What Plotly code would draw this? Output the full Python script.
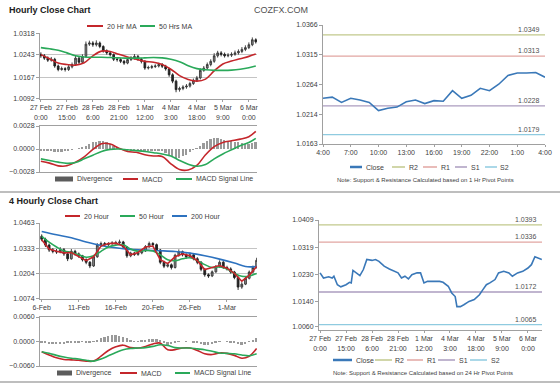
import plotly.graph_objects as go

W, H = 560, 386
FONT = "Liberation Sans, Arial, sans-serif"
TXT = "#404040"
AX = "#a0a0a0"

# ---------------- Hourly close chart (top-left) ----------------
h_hours = list(range(0, 125, 2))
h_first_open = 1.0245
h_close = [1.0240,1.0232,1.0225,1.0228,1.0205,1.0193,1.0196,1.0193,1.0202,1.0210,
           1.0232,1.0218,1.0238,1.0280,1.0284,1.0278,1.0284,1.0272,1.0257,1.0250,
           1.0244,1.0228,1.0227,1.0221,1.0215,1.0227,1.0232,1.0238,1.0228,1.0221,
           1.0198,1.0200,1.0203,1.0205,1.0210,1.0204,1.0195,1.0175,1.0153,1.0124,
           1.0128,1.0133,1.0136,1.0145,1.0156,1.0164,1.0190,1.0198,1.0210,1.0221,
           1.0240,1.0250,1.0245,1.0240,1.0242,1.0245,1.0250,1.0255,1.0262,1.0268,
           1.0278,1.0295,1.0288]
h_high = [1.0252,1.0246,1.0238,1.0236,1.0233,1.0210,1.0203,1.0201,1.0208,1.0217,
          1.0240,1.0237,1.0245,1.0289,1.0292,1.0290,1.0293,1.0289,1.0276,1.0262,
          1.0255,1.0248,1.0234,1.0232,1.0226,1.0233,1.0239,1.0246,1.0243,1.0233,
          1.0225,1.0206,1.0209,1.0211,1.0216,1.0215,1.0209,1.0199,1.0180,1.0158,
          1.0134,1.0139,1.0143,1.0151,1.0162,1.0171,1.0197,1.0205,1.0217,1.0228,
          1.0249,1.0257,1.0256,1.0251,1.0249,1.0252,1.0258,1.0262,1.0270,1.0276,
          1.0286,1.0303,1.0300]
h_low = [1.0233,1.0226,1.0219,1.0220,1.0199,1.0187,1.0189,1.0186,1.0188,1.0197,
         1.0206,1.0212,1.0213,1.0234,1.0274,1.0271,1.0272,1.0266,1.0251,1.0244,
         1.0238,1.0222,1.0220,1.0215,1.0209,1.0211,1.0222,1.0227,1.0223,1.0214,
         1.0192,1.0193,1.0195,1.0198,1.0200,1.0198,1.0189,1.0168,1.0146,1.0115,
         1.0117,1.0122,1.0127,1.0131,1.0140,1.0150,1.0159,1.0185,1.0193,1.0204,
         1.0216,1.0234,1.0238,1.0234,1.0235,1.0236,1.0240,1.0244,1.0249,1.0256,
         1.0263,1.0273,1.0282]
h_open = [h_first_open] + h_close[:-1]

h_ma_hours = [0,5,10,15,20,25,30,35,40,45,50,55,60,65,70,75,80,85,90,95,100,105,110,115,120,124]
h_ma20 = [1.0244,1.0230,1.0215,1.0210,1.0208,1.0216,1.0240,1.0256,1.0255,1.0245,1.0236,1.0228,1.0221,
          1.0218,1.0210,1.0194,1.0172,1.0159,1.0153,1.0160,1.0188,1.0212,1.0222,1.0230,1.0238,1.0246]
h_ma50 = [1.0268,1.0264,1.0259,1.0250,1.0240,1.0236,1.0235,1.0235,1.0234,1.0233,1.0232,1.0232,1.0233,
          1.0234,1.0233,1.0228,1.0220,1.0206,1.0196,1.0192,1.0190,1.0190,1.0191,1.0194,1.0199,1.0205]
h_macd = [-0.00150,-0.00172,-0.00205,-0.00205,-0.00160,-0.00095,-0.00005,0.00065,0.00060,0.00010,
          -0.00030,-0.00040,-0.00070,-0.00085,-0.00090,-0.00180,-0.00250,-0.00255,-0.00200,-0.00070,
          0.00030,0.00080,0.00100,0.00120,0.00150,0.00215]
h_signal = [-0.00120,-0.00140,-0.00160,-0.00175,-0.00165,-0.00120,-0.00075,-0.00030,-0.00005,0.00000,
            -0.00010,-0.00020,-0.00030,-0.00045,-0.00060,-0.00085,-0.00140,-0.00185,-0.00210,-0.00190,
            -0.00120,-0.00060,-0.00010,0.00040,0.00080,0.00130]
h_div = [-0.0003,-0.0003,-0.0003,-0.0003,-0.0004,-0.0004,-0.0004,-0.0003,-0.0002,-0.0001,
         0.0000,0.0001,0.0002,0.0004,0.0006,0.0008,0.0009,0.0010,0.0010,0.0008,
         0.0006,0.0004,0.0002,0.0001,-0.0001,-0.0002,-0.0002,-0.0002,-0.0003,-0.0003,
         -0.0003,-0.0003,-0.0003,-0.0003,-0.0003,-0.0003,-0.0005,-0.0008,-0.0010,-0.0011,
         -0.0011,-0.0009,-0.0007,-0.0004,-0.0001,0.0001,0.0004,0.0007,0.0010,0.0012,
         0.0013,0.0013,0.0012,0.0011,0.0010,0.0010,0.0009,0.0008,0.0007,0.0006,
         0.0006,0.0007,0.0008]
h_tick_hours = [0,15,30,45,60,75,90,105,120]
h_tick_text = ["27 Feb<br>0:00","27 Feb<br>15:00","28 Feb<br>6:00","28 Feb<br>21:00","1 Mar<br>12:00",
               "4 Mar<br>3:00","4 Mar<br>18:00","5 Mar<br>9:00","6 Mar<br>0:00"]
h_price_ticks = [1.0092,1.0167,1.0243,1.0318]
h_macd_ticks = [-0.0028,0.0,0.0028]

# ---------------- 1 Hr pivot chart (top-right) ----------------
p1_hours = list(range(25))
p1_close = [1.0241,1.0243,1.0234,1.0241,1.0238,1.0234,1.0220,1.0224,1.0226,1.0235,1.0238,1.0232,1.0237,
            1.0236,1.0254,1.0241,1.0246,1.0258,1.0254,1.0265,1.0280,1.0284,1.0284,1.0285,1.0277]
p1_tick_hours = [0,3,6,9,12,15,18,21,24]
p1_tick_text = ["4:00","7:00","10:00","13:00","16:00","19:00","22:00","1:00","4:00"]
p1_price_ticks = [1.0163,1.0214,1.0264,1.0315,1.0366]
level_names = ["R2","R1","S1","S2"]
p1_levels = [1.0349,1.0313,1.0228,1.0179]

# ---------------- 4 Hourly close chart (bottom-left) ----------------
f_bars = list(range(59))
f_first_open = 1.0395
f_close = [1.0380,1.0350,1.0325,1.0318,1.0315,1.0326,1.0305,1.0280,1.0318,1.0305,
           1.0295,1.0275,1.0262,1.0243,1.0290,1.0350,1.0358,1.0352,1.0358,1.0360,
           1.0362,1.0366,1.0340,1.0295,1.0309,1.0302,1.0310,1.0320,1.0342,1.0358,
           1.0352,1.0325,1.0262,1.0242,1.0249,1.0235,1.0298,1.0316,1.0300,1.0290,
           1.0300,1.0280,1.0262,1.0226,1.0198,1.0192,1.0213,1.0240,1.0262,1.0235,
           1.0228,1.0212,1.0184,1.0135,1.0150,1.0180,1.0212,1.0235,1.0272]
f_high = [1.0405,1.0388,1.0358,1.0335,1.0330,1.0340,1.0335,1.0312,1.0330,1.0326,
          1.0312,1.0300,1.0282,1.0268,1.0300,1.0360,1.0368,1.0366,1.0365,1.0370,
          1.0372,1.0378,1.0372,1.0345,1.0316,1.0315,1.0318,1.0328,1.0350,1.0368,
          1.0365,1.0358,1.0330,1.0270,1.0258,1.0256,1.0306,1.0328,1.0322,1.0308,
          1.0312,1.0306,1.0288,1.0268,1.0232,1.0205,1.0220,1.0248,1.0272,1.0268,
          1.0244,1.0236,1.0218,1.0190,1.0160,1.0188,1.0220,1.0245,1.0285]
f_low = [1.0370,1.0340,1.0315,1.0308,1.0305,1.0308,1.0295,1.0268,1.0275,1.0296,
         1.0285,1.0266,1.0252,1.0232,1.0238,1.0285,1.0342,1.0344,1.0345,1.0350,
         1.0352,1.0355,1.0332,1.0285,1.0288,1.0294,1.0295,1.0303,1.0315,1.0336,
         1.0343,1.0318,1.0252,1.0232,1.0235,1.0225,1.0230,1.0290,1.0292,1.0280,
         1.0283,1.0272,1.0252,1.0216,1.0188,1.0182,1.0186,1.0208,1.0234,1.0228,
         1.0220,1.0204,1.0175,1.0120,1.0126,1.0145,1.0174,1.0205,1.0230]
f_open = [f_first_open] + f_close[:-1]

f_ma_bars = list(range(0, 59, 2))
f_ma20 = [1.0378,1.0330,1.0318,1.0310,1.0312,1.0290,1.0270,1.0290,1.0345,1.0358,
          1.0360,1.0345,1.0300,1.0312,1.0340,1.0345,1.0275,1.0255,1.0290,1.0305,
          1.0295,1.0270,1.0225,1.0235,1.0245,1.0232,1.0205,1.0165,1.0195,1.0240]
f_ma50 = [1.0395,1.0365,1.0340,1.0320,1.0312,1.0300,1.0288,1.0295,1.0318,1.0340,
          1.0350,1.0352,1.0330,1.0318,1.0322,1.0320,1.0300,1.0275,1.0270,1.0280,
          1.0285,1.0270,1.0250,1.0235,1.0238,1.0228,1.0205,1.0190,1.0192,1.0205]
f_ma200_bars = [0,4,8,12,16,20,24,28,32,36,40,44,48,52,55,58]
f_ma200 = [1.0420,1.0403,1.0388,1.0366,1.0348,1.0336,1.0328,1.0324,1.0321,1.0317,
           1.0309,1.0295,1.0278,1.0258,1.0240,1.0240]
f_macd = [-0.0025,-0.0033,-0.0040,-0.0044,-0.0045,-0.0046,-0.0048,-0.0048,-0.0036,-0.0022,
          -0.0013,-0.0009,-0.0015,-0.0016,-0.0012,-0.0006,-0.0004,-0.0020,-0.0020,-0.0016,
          -0.0016,-0.0022,-0.0030,-0.0032,-0.0028,-0.0029,-0.0034,-0.0041,-0.0036,-0.0017]
f_signal = [-0.0025,-0.0029,-0.0034,-0.0038,-0.0041,-0.0043,-0.0046,-0.0048,-0.0043,-0.0035,
            -0.0027,-0.0020,-0.0017,-0.0016,-0.0015,-0.0012,-0.0008,-0.0010,-0.0015,-0.0016,
            -0.0016,-0.0018,-0.0020,-0.0024,-0.0028,-0.0029,-0.0030,-0.0033,-0.0035,-0.0030]
f_div = [-0.0002,-0.0004,-0.0005,-0.0006,-0.0006,-0.0006,-0.0005,-0.0004,-0.0003,-0.0002,
         -0.0002,-0.0001,-0.0002,-0.0003,-0.0001,0.0004,0.0008,0.0012,0.0014,0.0015,
         0.0016,0.0014,0.0012,0.0008,0.0004,0.0001,-0.0001,0.0002,0.0003,0.0005,
         0.0006,0.0005,0.0003,-0.0004,-0.0008,-0.0006,-0.0003,-0.0001,0.0000,0.0001,
         0.0000,-0.0002,-0.0003,-0.0006,-0.0008,-0.0008,-0.0006,-0.0003,-0.0001,0.0000,
         0.0001,-0.0002,-0.0004,-0.0007,-0.0008,-0.0005,-0.0001,0.0004,0.0008]
f_tick_bars = [0,10,20,30,40,50]
f_tick_text = ["6-Feb","11-Feb","16-Feb","20-Feb","26-Feb","1-Mar"]
f_price_ticks = [1.0074,1.0204,1.0333,1.0463]
f_macd_ticks = [-0.0060,0.0,0.0060]

# ---------------- 24 Hr pivot chart (bottom-right) ----------------
p24_hours = [0,2,5,7,8,10,12,15,17,18,19,21,23,25,27,30,32,34,37,40,43,45,47,49,51,53,56,58,60,62,
             65,69,71,74,76,78,79,81,83,86,89,92,94,96,98,101,103,106,109,111,114,117,120,122,124,126,128]
p24_close = [1.0235,1.0218,1.0222,1.0218,1.0224,1.0196,1.0189,1.0196,1.0204,1.0202,1.0243,1.0235,1.0226,
             1.0246,1.0279,1.0276,1.0279,1.0273,1.0257,1.0248,1.0240,1.0235,1.0218,1.0224,1.0215,1.0229,
             1.0235,1.0235,1.0202,1.0207,1.0207,1.0207,1.0204,1.0191,1.0169,1.0157,1.0124,1.0124,1.0130,
             1.0141,1.0147,1.0163,1.0180,1.0196,1.0202,1.0213,1.0235,1.0240,1.0235,1.0224,1.0235,1.0240,
             1.0251,1.0262,1.0288,1.0284,1.0279]
p24_price_ticks = [1.0060,1.0140,1.0230,1.0319,1.0409]
p24_levels = [1.0393,1.0336,1.0172,1.0065]

level_colors = ["#c2c98c", "#e2a6a2", "#ab9cbf", "#8fcbe0"]
CLOSE_C = "#3a78b8"
RED = "#c4262b"
GREEN = "#2aa95a"
BLUE = "#2d72bf"
DIV_C = "#9a9a9a"
DIV_LEG = "#5c5c5c"


def dom_x(a, b):
    return [a / W, b / W]


def dom_y(top, bottom):
    return [1 - bottom / H, 1 - top / H]


fig = go.Figure()

candle_inc = dict(line=dict(color="#353535", width=0.9), fillcolor="#8a8a8a")
candle_dec = dict(line=dict(color="#1e1e1e", width=0.9), fillcolor="#262626")

# --- top-left price
fig.add_trace(go.Candlestick(x=h_hours, open=h_open, high=h_high, low=h_low, close=h_close,
                             xaxis="x", yaxis="y", name="Hourly", whiskerwidth=0,
                             increasing=candle_inc, decreasing=candle_dec))
fig.add_trace(go.Scatter(x=h_ma_hours, y=h_ma20, mode="lines", name="20 Hr MA", line=dict(color=RED, width=1.6),
                         line_shape="spline", xaxis="x", yaxis="y"))
fig.add_trace(go.Scatter(x=h_ma_hours, y=h_ma50, mode="lines", name="50 Hrs MA", line=dict(color=GREEN, width=1.6),
                         line_shape="spline", xaxis="x", yaxis="y"))

# --- top-left MACD
fig.add_trace(go.Bar(x=h_hours, y=h_div, name="Divergence", marker=dict(color=DIV_C, line=dict(width=0)),
                     width=1.0, xaxis="x2", yaxis="y2"))
fig.add_trace(go.Scatter(x=h_ma_hours, y=h_macd, mode="lines", name="MACD", line=dict(color=RED, width=1.6),
                         line_shape="spline", xaxis="x2", yaxis="y2"))
fig.add_trace(go.Scatter(x=h_ma_hours, y=h_signal, mode="lines", name="MACD Signal Line",
                         line=dict(color=GREEN, width=1.6), line_shape="spline", xaxis="x2", yaxis="y2"))

# --- top-right 1 hr pivot
for nm, val, col in zip(level_names, p1_levels, level_colors):
    fig.add_trace(go.Scatter(x=[p1_hours[0], p1_hours[-1]], y=[val, val], mode="lines", name=nm,
                             line=dict(color=col, width=1.3), xaxis="x3", yaxis="y3"))
fig.add_trace(go.Scatter(x=p1_hours, y=p1_close, mode="lines", name="Close", line=dict(color=CLOSE_C, width=1.6),
                         xaxis="x3", yaxis="y3"))

# --- bottom-left price
fig.add_trace(go.Candlestick(x=f_bars, open=f_open, high=f_high, low=f_low, close=f_close,
                             xaxis="x4", yaxis="y4", name="4 Hourly", whiskerwidth=0,
                             increasing=candle_inc, decreasing=candle_dec))
fig.add_trace(go.Scatter(x=f_ma200_bars, y=f_ma200, mode="lines", name="200 Hour", line=dict(color=BLUE, width=1.6),
                         line_shape="spline", xaxis="x4", yaxis="y4"))
fig.add_trace(go.Scatter(x=f_ma_bars, y=f_ma50, mode="lines", name="50 Hour", line=dict(color=GREEN, width=1.6),
                         line_shape="spline", xaxis="x4", yaxis="y4"))
fig.add_trace(go.Scatter(x=f_ma_bars, y=f_ma20, mode="lines", name="20 Hour", line=dict(color=RED, width=1.6),
                         xaxis="x4", yaxis="y4"))

# --- bottom-left MACD
fig.add_trace(go.Bar(x=f_bars, y=f_div, name="Divergence", marker=dict(color=DIV_C, line=dict(width=0)),
                     width=0.5, xaxis="x5", yaxis="y5"))
fig.add_trace(go.Scatter(x=f_ma_bars, y=f_macd, mode="lines", name="MACD", line=dict(color=RED, width=1.6),
                         line_shape="spline", xaxis="x5", yaxis="y5"))
fig.add_trace(go.Scatter(x=f_ma_bars, y=f_signal, mode="lines", name="MACD Signal Line",
                         line=dict(color=GREEN, width=1.6), line_shape="spline", xaxis="x5", yaxis="y5"))

# --- bottom-right 24 hr pivot
for nm, val, col in zip(level_names, p24_levels, level_colors):
    fig.add_trace(go.Scatter(x=[-0.6, 128.1], y=[val, val], mode="lines", name=nm,
                             line=dict(color=col, width=1.3), xaxis="x6", yaxis="y6"))
fig.add_trace(go.Scatter(x=p24_hours, y=p24_close, mode="lines", name="Close", line=dict(color=CLOSE_C, width=1.6),
                         xaxis="x6", yaxis="y6"))

fig.update_traces(showlegend=False)


def xax(domain, anchor, rng, tickvals=None, ticktext=None, showlabels=True, mirror=False):
    d = dict(domain=domain, anchor=anchor, range=rng, showgrid=False, zeroline=False, automargin=False,
             showline=True, linecolor=AX, linewidth=1, mirror=mirror,
             ticks="outside" if showlabels else "", ticklen=2, tickcolor=AX,
             tickfont=dict(size=7, color=TXT, family=FONT), fixedrange=True,
             rangeslider=dict(visible=False))
    if tickvals is not None:
        d.update(tickmode="array", tickvals=tickvals, ticktext=ticktext)
    d["showticklabels"] = showlabels
    return d


def yax(domain, anchor, rng, tickvals, grid=False):
    return dict(domain=domain, anchor=anchor, range=rng, tickmode="array", tickvals=tickvals,
                tickformat=".4f", showgrid=grid, gridcolor="#c4c4c4", gridwidth=1, zeroline=False,
                automargin=False, showline=True, linecolor=AX, linewidth=1, ticks="outside", ticklen=3,
                tickcolor=AX, tickfont=dict(size=7, color=TXT, family=FONT), fixedrange=True)


annotations = [
    dict(text="<b>Hourly Close Chart</b>", x=7 / W, y=1 - 10 / H, xref="paper", yref="paper",
         xanchor="left", yanchor="middle", showarrow=False, font=dict(size=9, color="#202020", family=FONT)),
    dict(text="COZFX.COM", x=281 / W, y=1 - 10 / H, xref="paper", yref="paper",
         xanchor="center", yanchor="middle", showarrow=False, font=dict(size=9, color="#505050", family=FONT)),
    dict(text="<b>4 Hourly Close Chart</b>", x=7 / W, y=1 - 201 / H, xref="paper", yref="paper",
         xanchor="left", yanchor="middle", showarrow=False, font=dict(size=9, color="#202020", family=FONT)),
    dict(text="Note: Support & Resistance Calculated based on 1 Hr Pivot Points", x=425 / W, y=1 - 180 / H,
         xref="paper", yref="paper", xanchor="center", yanchor="middle", showarrow=False,
         font=dict(size=6, color=TXT, family=FONT)),
    dict(text="Note: Support & Resistance Calculated based on 24 Hr Pivot Points", x=423 / W, y=1 - 373 / H,
         xref="paper", yref="paper", xanchor="center", yanchor="middle", showarrow=False,
         font=dict(size=6, color=TXT, family=FONT)),
]
for val in p1_levels:
    annotations.append(dict(text=f"{val:.4f}", x=0.985, xref="x3 domain", y=val, yref="y3",
                            xanchor="right", yanchor="bottom", showarrow=False,
                            font=dict(size=7, color="#505050", family=FONT)))
for val in p24_levels:
    annotations.append(dict(text=f"{val:.4f}", x=0.985, xref="x6 domain", y=val, yref="y6",
                            xanchor="right", yanchor="bottom", showarrow=False,
                            font=dict(size=7, color="#505050", family=FONT)))

shapes = [
    dict(type="line", xref="paper", yref="paper", x0=0, x1=1, y0=1 - 192 / H, y1=1 - 192 / H,
         line=dict(color="#a8a8a8", width=1.5)),
    dict(type="line", xref="paper", yref="paper", x0=0, x1=1, y0=1 - 382 / H, y1=1 - 382 / H,
         line=dict(color="#a8a8a8", width=1.5)),
]

# legend keys: (kind, x_start_px, x_end_px, color, label, thickness)
legend_rows = [
    (26, [("line", 87, 103, RED, "20 Hr MA", 2), ("line", 140, 155, GREEN, "50 Hrs MA", 2)]),
    (179, [("rect", 55, 73, DIV_LEG, "Divergence", 5), ("line", 123, 138, RED, "MACD", 2),
           ("line", 176, 192, GREEN, "MACD Signal Line", 2)]),
    (167, [("line", 350, 362, CLOSE_C, "Close", 2.5), ("line", 392, 405, level_colors[0], "R2", 1.5),
           ("line", 423, 437, level_colors[1], "R1", 1.5), ("line", 455, 467, level_colors[2], "S1", 1.5),
           ("line", 485, 497, level_colors[3], "S2", 1.5)]),
    (216, [("line", 65, 80, RED, "20 Hour", 2), ("line", 120, 135, GREEN, "50 Hour", 2),
           ("line", 172, 187, BLUE, "200 Hour", 2)]),
    (373, [("rect", 57, 72, DIV_LEG, "Divergence", 5), ("line", 120, 137, RED, "MACD", 2),
           ("line", 175, 190, GREEN, "MACD Signal Line", 2)]),
    (360, [("line", 333, 352, CLOSE_C, "Close", 2.5), ("line", 375, 392, level_colors[0], "R2", 1.5),
           ("line", 407, 423, level_colors[1], "R1", 1.5), ("line", 438, 455, level_colors[2], "S1", 1.5),
           ("line", 470, 487, level_colors[3], "S2", 1.5)]),
]
for ypx, items in legend_rows:
    yp = 1 - ypx / H
    for kind, xa, xb, col, label, th in items:
        if kind == "line":
            shapes.append(dict(type="line", xref="paper", yref="paper", x0=xa / W, x1=xb / W, y0=yp, y1=yp,
                               line=dict(color=col, width=th)))
        else:
            shapes.append(dict(type="rect", xref="paper", yref="paper", x0=xa / W, x1=xb / W,
                               y0=yp - (th / 2) / H, y1=yp + (th / 2) / H, fillcolor=col, line=dict(width=0)))
        annotations.append(dict(text=label, x=(xb + 1.5) / W, y=yp, xref="paper", yref="paper",
                                xanchor="left", yanchor="middle", showarrow=False,
                                font=dict(size=7, color=TXT, family=FONT)))

fig.update_layout(
    width=W, height=H, margin=dict(l=0, r=0, t=0, b=0, autoexpand=False),
    paper_bgcolor="white", plot_bgcolor="white",
    font=dict(family=FONT, size=7, color=TXT),
    bargap=0, showlegend=False, hovermode=False,
    xaxis=xax(dom_x(40, 257), "y", [-0.5, 124.7], h_tick_hours, h_tick_text),
    yaxis=yax(dom_y(33, 99), "x", [1.00918, 1.03182], h_price_ticks, grid=True),
    xaxis2=xax(dom_x(40, 257), "y2", [-0.5, 124.7], showlabels=False, mirror=True),
    yaxis2=yax(dom_y(126, 172), "x2", [-0.0028, 0.0028], h_macd_ticks),
    xaxis3=xax(dom_x(323, 545), "y3", [0, 24], p1_tick_hours, p1_tick_text),
    yaxis3=yax(dom_y(25, 144), "x3", [1.0163, 1.0366], p1_price_ticks),
    xaxis4=xax(dom_x(40, 257), "y4", [-0.46, 58.1], f_tick_bars, f_tick_text),
    yaxis4=yax(dom_y(223, 299), "x4", [1.00738, 1.04632], f_price_ticks, grid=True),
    xaxis5=xax(dom_x(40, 257), "y5", [-0.46, 58.1], showlabels=False, mirror=True),
    yaxis5=yax(dom_y(317, 366), "x5", [-0.0060, 0.0060], f_macd_ticks),
    xaxis6=xax(dom_x(319, 542), "y6", [-0.6, 128.1], h_tick_hours, h_tick_text),
    yaxis6=yax(dom_y(220, 330), "x6", [1.0047, 1.0409], p24_price_ticks),
    annotations=annotations,
    shapes=shapes,
)

# remove the browser's default 8px page margin so the figure sits at the window's top-left corner
fig.write_html("out.html", config={"displayModeBar": False},
               post_script="document.body.style.margin='0';document.body.style.overflow='hidden';")
